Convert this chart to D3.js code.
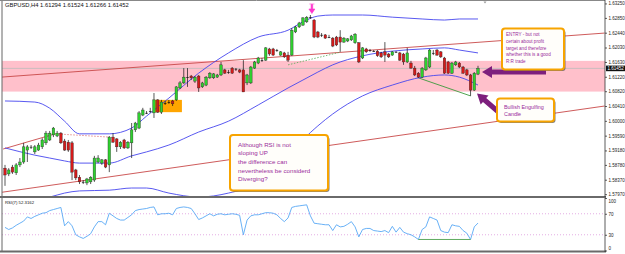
<!DOCTYPE html>
<html>
<head>
<meta charset="UTF-8">
<title>GBPUSD,H4</title>
<style>
  body { margin: 0; background: #fff; }
  svg { display: block; }
  text { font-family: "Liberation Sans", Arial, sans-serif; }
  .axis path, .axis line { stroke: #333; stroke-width: 0.8; }
  .axis text { fill: #222; font-size: 4.5px; }
</style>
</head>
<body>
<svg id="chart" width="625" height="254"></svg>
<script src="https://cdn.jsdelivr.net/npm/d3@7"></script>
<script>
// GBPUSD H4 candles
var opens = [
  1.5869, 1.5853, 1.5872, 1.5856, 1.5878, 1.5886, 1.5919, 1.5928, 1.5914, 1.5919,
  1.5928, 1.5939, 1.5947, 1.5961, 1.5958, 1.5966, 1.5944, 1.5941, 1.5939, 1.5864,
  1.5844, 1.5831, 1.5828, 1.5831, 1.5836, 1.5886, 1.5883, 1.5892, 1.5878, 1.5955,
  1.5950, 1.5928, 1.5947, 1.5925, 1.5939, 1.5975, 1.5980, 1.6016, 1.6022, 1.6027,
  1.6022, 1.6058, 1.6024, 1.6049, 1.6052, 1.6055, 1.6058, 1.6091, 1.6105, 1.6121,
  1.6124, 1.6110, 1.6124, 1.6094, 1.6099, 1.6119, 1.6119, 1.6121, 1.6127, 1.6141,
  1.6135, 1.6146, 1.6144, 1.6141, 1.6141, 1.6105, 1.6105, 1.6146, 1.6160, 1.6168,
  1.6168, 1.6199, 1.6199, 1.6196, 1.6182, 1.6188, 1.6182, 1.6182, 1.6246, 1.6260,
  1.6265, 1.6274, 1.6287, 1.6279, 1.6246, 1.6238, 1.6238, 1.6232, 1.6229, 1.6232,
  1.6232, 1.6218, 1.6221, 1.6224, 1.6216, 1.6216, 1.6174, 1.6199, 1.6196, 1.6193,
  1.6193, 1.6188, 1.6191, 1.6185, 1.6182, 1.6191, 1.6188, 1.6185, 1.6163, 1.6160,
  1.6146, 1.6132, 1.6121, 1.6141, 1.6149, 1.6188, 1.6196, 1.6191, 1.6174, 1.6163,
  1.6132, 1.6155, 1.6160, 1.6149, 1.6141, 1.6127, 1.6085, 1.61294
];
var highs = [
  1.5878, 1.5869, 1.5878, 1.5883, 1.5897, 1.5939, 1.5933, 1.5933, 1.5933, 1.5939,
  1.5952, 1.5972, 1.5972, 1.5983, 1.5972, 1.5969, 1.5950, 1.5947, 1.5944, 1.5867,
  1.5850, 1.5836, 1.5842, 1.5847, 1.5903, 1.5905, 1.5894, 1.5894, 1.5958, 1.5966,
  1.5952, 1.5944, 1.5950, 1.5944, 1.5994, 1.5997, 1.6027, 1.6036, 1.6027, 1.6036,
  1.6077, 1.6060, 1.6058, 1.6055, 1.6058, 1.6058, 1.6096, 1.6110, 1.6146, 1.6146,
  1.6127, 1.6124, 1.6127, 1.6108, 1.6124, 1.6135, 1.6132, 1.6130, 1.6163, 1.6144,
  1.6141, 1.6149, 1.6146, 1.6144, 1.6168, 1.6130, 1.6152, 1.6166, 1.6177, 1.6174,
  1.6204, 1.6202, 1.6202, 1.6199, 1.6193, 1.6191, 1.6191, 1.6257, 1.6263, 1.6274,
  1.6287, 1.6290, 1.6293, 1.6282, 1.6249, 1.6243, 1.6240, 1.6238, 1.6232, 1.6235,
  1.6251, 1.6232, 1.6229, 1.6238, 1.6243, 1.6218, 1.6204, 1.6202, 1.6199, 1.6196,
  1.6196, 1.6191, 1.6218, 1.6188, 1.6193, 1.6193, 1.6191, 1.6188, 1.6202, 1.6166,
  1.6152, 1.6135, 1.6149, 1.6177, 1.6199, 1.6196, 1.6199, 1.6193, 1.6177, 1.6166,
  1.6163, 1.6166, 1.6163, 1.6152, 1.6144, 1.6130, 1.6135, 1.61524
];
var lows = [
  1.5820, 1.5847, 1.5853, 1.5850, 1.5872, 1.5881, 1.5886, 1.5922, 1.5908, 1.5917,
  1.5922, 1.5933, 1.5944, 1.5955, 1.5955, 1.5936, 1.5917, 1.5914, 1.5836, 1.5836,
  1.5825, 1.5825, 1.5822, 1.5825, 1.5831, 1.5883, 1.5878, 1.5869, 1.5858, 1.5939,
  1.5914, 1.5922, 1.5922, 1.5922, 1.5897, 1.5969, 1.5977, 1.6013, 1.6019, 1.6022,
  1.6008, 1.6022, 1.6019, 1.6044, 1.6047, 1.6041, 1.6055, 1.6088, 1.6102, 1.6094,
  1.6113, 1.6105, 1.6080, 1.6091, 1.6096, 1.6116, 1.6116, 1.6119, 1.6124, 1.6130,
  1.6130, 1.6130, 1.6138, 1.6132, 1.6080, 1.6099, 1.6102, 1.6144, 1.6157, 1.6163,
  1.6166, 1.6180, 1.6180, 1.6191, 1.6180, 1.6174, 1.6163, 1.6180, 1.6243, 1.6257,
  1.6263, 1.6271, 1.6282, 1.6229, 1.6229, 1.6232, 1.6227, 1.6229, 1.6204, 1.6207,
  1.6191, 1.6216, 1.6218, 1.6221, 1.6213, 1.6160, 1.6171, 1.6188, 1.6191, 1.6191,
  1.6177, 1.6174, 1.6163, 1.6174, 1.6180, 1.6188, 1.6166, 1.6155, 1.6160, 1.6144,
  1.6124, 1.6119, 1.6119, 1.6138, 1.6146, 1.6182, 1.6180, 1.6174, 1.6130, 1.6130,
  1.6130, 1.6152, 1.6146, 1.6130, 1.6124, 1.6069, 1.6083, 1.61266
];
var closes = [
  1.5850, 1.5864, 1.5858, 1.5878, 1.5886, 1.5928, 1.5928, 1.5928, 1.5928, 1.5933,
  1.5947, 1.5966, 1.5966, 1.5980, 1.5966, 1.5939, 1.5919, 1.5919, 1.5858, 1.5842,
  1.5831, 1.5831, 1.5839, 1.5844, 1.5897, 1.5897, 1.5892, 1.5872, 1.5955, 1.5941,
  1.5928, 1.5941, 1.5925, 1.5941, 1.5975, 1.5994, 1.6022, 1.6030, 1.6022, 1.6027,
  1.6058, 1.6024, 1.6052, 1.6049, 1.6052, 1.6047, 1.6094, 1.6105, 1.6121, 1.6121,
  1.6119, 1.6121, 1.6091, 1.6105, 1.6121, 1.6132, 1.6130, 1.6127, 1.6155, 1.6132,
  1.6135, 1.6132, 1.6144, 1.6135, 1.6080, 1.6127, 1.6149, 1.6163, 1.6174, 1.6168,
  1.6202, 1.6185, 1.6182, 1.6196, 1.6191, 1.6177, 1.6168, 1.6251, 1.6260, 1.6271,
  1.6285, 1.6287, 1.6287, 1.6232, 1.6232, 1.6238, 1.6229, 1.6232, 1.6207, 1.6210,
  1.6218, 1.6229, 1.6227, 1.6235, 1.6240, 1.6163, 1.6202, 1.6191, 1.6196, 1.6193,
  1.6180, 1.6177, 1.6182, 1.6177, 1.6191, 1.6191, 1.6168, 1.6163, 1.6188, 1.6146,
  1.6127, 1.6121, 1.6146, 1.6174, 1.6196, 1.6188, 1.6182, 1.6177, 1.6132, 1.6132,
  1.6160, 1.6163, 1.6149, 1.6132, 1.6127, 1.6085, 1.6132, 1.61452
];

// RSI(7), one value per candle
var rsi = [
  44, 40, 43, 48, 52, 56, 64, 61, 65, 68,
  71, 72, 76, 78, 80, 82, 47, 55, 47, 30,
  26, 23, 27, 32, 45, 55, 55, 49, 71, 66,
  61, 58, 58, 63, 68, 76, 78, 79, 80, 82,
  83, 68, 70, 70, 71, 68, 80, 82, 83, 82,
  80, 70, 59, 62, 66, 70, 66, 69, 70, 68,
  69, 70, 69, 67, 30, 58, 66, 68, 68, 70,
  72, 72, 71, 68, 61, 55, 62, 82, 84, 85,
  86, 87, 66, 52, 51, 50, 49, 49, 38, 49,
  45, 46, 50, 55, 45, 26, 40, 42, 42, 38,
  37, 36, 38, 34, 46, 35, 44, 35, 32, 30,
  26, 21, 40, 45, 64, 61, 58, 38, 35, 34,
  49, 47, 46, 38, 33, 21, 45, 52.3162
];

// Bollinger bands, read at these candles
var bandAt = [0, 8, 12, 16, 20, 28, 34, 38, 44, 52, 60, 68, 76, 80, 84, 88, 96, 104, 112, 118, 122, 127];
var bandUpper = [1.6055, 1.6052, 1.6035, 1.5999, 1.5964, 1.5964, 1.5980, 1.6013, 1.6063, 1.6132, 1.6188,
                 1.6232, 1.6251, 1.6274, 1.6290, 1.6293, 1.6293, 1.6287, 1.6282, 1.6279, 1.6282, 1.6282];
var bandMiddle = [1.5925, 1.5905, 1.5897, 1.5889, 1.5883, 1.5883, 1.5903, 1.5914, 1.5933, 1.5969, 1.5999,
                  1.6044, 1.6091, 1.6113, 1.6135, 1.6155, 1.6180, 1.6193, 1.6199, 1.6202, 1.6196, 1.6188];
var bandLower = [1.5767, 1.5781, 1.5789, 1.5800, 1.5806, 1.5808, 1.5814, 1.5814, 1.5800, 1.5789, 1.5800,
                 1.5828, 1.5897, 1.5947, 1.5986, 1.6019, 1.6069, 1.6099, 1.6121, 1.6127, 1.6121, 1.6099];

var priceTicks = [1.63250, 1.62850, 1.62440, 1.62030, 1.61630, 1.61220, 1.60820,
                  1.60410, 1.60000, 1.59590, 1.59180, 1.58780, 1.58370, 1.57970];
var rsiTicks = [100, 70, 30, 0];
var rsiLevels = [70, 30];

// drawn objects: [candle index, price] end points
var zone = [1.6081, 1.6166];
var orangeBox = [[39.8, 1.6024], [47.5, 1.6058]];
var redLines = [ [[-1, 1.6121], [161, 1.6243]], [[-1, 1.5802], [161, 1.6041]], [[-0.5, 1.5922], [13.5, 1.5964]] ];
var redDotted = [[13.5, 1.5964], [28, 1.5955]];
var greenDotted = [[76, 1.6155], [90, 1.6190]];
var greenLine = [[111, 1.6119], [125, 1.6069]];
var rsiGreen = [[111, 21], [125, 21]];
var topArrowAt = 82;

var title = "GBPUSD,H4  1.61294 1.61524 1.61266 1.61452";
var rsiTitle = "RSI(7) 52.3162";

var svg = d3.select("#chart");
var left = 2, right = 605, mainTop = 1, mainBottom = 197, rsiTop = 198, rsiBottom = 251;

var x = d3.scaleLinear().domain([0, 127]).range([5, 478]);
var y = d3.scaleLinear().domain([1.57919, 1.63290]).range([196, 2]);
var yr = d3.scaleLinear().domain([0, 100]).range([250.5, 198]);

svg.append("clipPath").attr("id", "mainclip").append("rect")
    .attr("x", left).attr("y", mainTop).attr("width", right - left).attr("height", mainBottom - mainTop);
svg.append("clipPath").attr("id", "rsiclip").append("rect")
    .attr("x", left).attr("y", rsiTop).attr("width", right - left).attr("height", rsiBottom - rsiTop);

var main = svg.append("g").attr("clip-path", "url(#mainclip)");

// pink zone
main.append("rect")
    .attr("x", left).attr("width", right - left)
    .attr("y", y(zone[1])).attr("height", y(zone[0]) - y(zone[1]))
    .attr("fill", "#ffc0cb");

// bid line
main.append("line")
    .attr("x1", left).attr("x2", right)
    .attr("y1", y(closes[closes.length - 1])).attr("y2", y(closes[closes.length - 1]))
    .attr("stroke", "#bdbdbd").attr("stroke-width", 0.8);

// orange box
main.append("rect")
    .attr("x", x(orangeBox[0][0])).attr("width", x(orangeBox[1][0]) - x(orangeBox[0][0]))
    .attr("y", y(orangeBox[1][1])).attr("height", y(orangeBox[0][1]) - y(orangeBox[1][1]))
    .attr("fill", "#ffa500");

function seg(g, p, color, w, dash) {
    g.append("line")
        .attr("x1", x(p[0][0])).attr("y1", y(p[0][1]))
        .attr("x2", x(p[1][0])).attr("y2", y(p[1][1]))
        .attr("stroke", color).attr("stroke-width", w)
        .attr("stroke-dasharray", dash || null);
}
redLines.forEach(function(l) { seg(main, l, "#c84848", 0.9); });
seg(main, redDotted, "#e07070", 0.8, "1.5,1.5");
seg(main, greenDotted, "#55aa55", 0.8, "1.5,1.5");
seg(main, greenLine, "#3c9a3c", 0.9);

// bands
var bandLine = d3.line().x(d => x(d[0])).y(d => y(d[1])).curve(d3.curveMonotoneX);
[bandUpper, bandMiddle, bandLower].forEach(function(b) {
    main.append("path")
        .attr("d", bandLine(bandAt.map((k, i) => [k, b[i]])))
        .attr("fill", "none").attr("stroke", "#4646ee").attr("stroke-width", 0.9);
});

// candles
var candles = d3.range(opens.length).map(i => ({i: i, o: opens[i], h: highs[i], l: lows[i], c: closes[i]}));
var cg = main.append("g").selectAll("g").data(candles).enter().append("g");
cg.append("line")
    .attr("x1", d => x(d.i)).attr("x2", d => x(d.i))
    .attr("y1", d => y(d.h)).attr("y2", d => y(d.l))
    .attr("stroke", "#111").attr("stroke-width", 0.7);
cg.append("rect")
    .attr("x", d => x(d.i) - 1.3).attr("width", 2.6)
    .attr("y", d => y(Math.max(d.o, d.c)))
    .attr("height", d => Math.max(0.7, Math.abs(y(d.o) - y(d.c))))
    .attr("fill", d => Math.abs(d.o - d.c) < 0.00005 ? "#111" : (d.c > d.o ? "#2fd02f" : "#d41a1a"))
    .attr("stroke", d => Math.abs(d.o - d.c) < 0.00005 ? "none" : "#222")
    .attr("stroke-width", 0.35);

// magenta arrow above the top
var ax = x(topArrowAt) + 1.5, ay = y(highs[topArrowAt]) - 1.5;
main.append("path")
    .attr("d", "M" + (ax - 0.8) + "," + (ay - 9) + "h1.6v4.5h2.2l-3,4.5l-3,-4.5h2.2z M" + (ax - 2.5) + "," + (ay - 9.5) + "h5")
    .attr("fill", "#ff33cc").attr("stroke", "#ff33cc").attr("stroke-width", 0.6);

// chart shift marker
svg.append("path").attr("d", "M483.5,1.5h3l-1.5,2z").attr("fill", "#999");

// RSI panel
var rp = svg.append("g").attr("clip-path", "url(#rsiclip)");
rsiLevels.forEach(function(v) {
    rp.append("line").attr("x1", left).attr("x2", right)
        .attr("y1", yr(v)).attr("y2", yr(v))
        .attr("stroke", "#d98ad9").attr("stroke-width", 0.7).attr("stroke-dasharray", "1,2");
});
rp.append("path")
    .attr("d", d3.line().x((d, i) => x(i)).y(d => yr(d))(rsi))
    .attr("fill", "none").attr("stroke", "#58a8f5").attr("stroke-width", 0.9);
rp.append("line")
    .attr("x1", x(rsiGreen[0][0])).attr("x2", x(rsiGreen[1][0]))
    .attr("y1", yr(rsiGreen[0][1])).attr("y2", yr(rsiGreen[1][1]))
    .attr("stroke", "#4ea04e").attr("stroke-width", 0.9);

// frames
svg.append("line").attr("x1", left).attr("x2", left).attr("y1", 0).attr("y2", rsiBottom).attr("stroke", "#666").attr("stroke-width", 1);
svg.append("line").attr("x1", 0).attr("x2", right).attr("y1", 0.5).attr("y2", 0.5).attr("stroke", "#888").attr("stroke-width", 1);
svg.append("line").attr("x1", 0).attr("x2", right + 1).attr("y1", mainBottom).attr("y2", mainBottom).attr("stroke", "#6a6a6a").attr("stroke-width", 1.8);
svg.append("line").attr("x1", 0).attr("x2", right + 1).attr("y1", rsiBottom + 0.5).attr("y2", rsiBottom + 0.5).attr("stroke", "#6a6a6a").attr("stroke-width", 1.8);

// axes
var ya = svg.append("g").attr("class", "axis").attr("transform", "translate(" + right + ",0)")
    .call(d3.axisRight(y).tickValues(priceTicks).tickSize(2).tickPadding(1.5).tickFormat(d3.format(".5f")));
ya.select(".domain").attr("d", "M0,0V" + mainBottom);
var ra = svg.append("g").attr("class", "axis").attr("transform", "translate(" + right + ",0)")
    .call(d3.axisRight(yr).tickValues(rsiTicks).tickSize(2).tickPadding(1.5));
ra.select(".domain").attr("d", "M0," + rsiTop + "V" + (rsiBottom + 1));
ra.selectAll(".tick text").attr("dy", d => d === 100 ? "0.9em" : d === 0 ? "-0.2em" : "0.32em");

// last price tag
var lastY = y(closes[closes.length - 1]);
svg.append("rect").attr("x", right + 1).attr("y", lastY - 2.8).attr("width", 19).attr("height", 5.6).attr("fill", "#111");
svg.append("text").attr("x", right + 2.5).attr("y", lastY + 1.6).attr("fill", "#fff")
    .attr("font-size", 4.5).text(d3.format(".5f")(closes[closes.length - 1]));

// titles
svg.append("text").attr("x", 5).attr("y", 7).attr("font-size", 5.8).attr("fill", "#111").text(title);
svg.append("text").attr("x", 5).attr("y", 204).attr("font-size", 4.3).attr("fill", "#111").text(rsiTitle);

// callouts
function callout(bx, by, bw, bh, lines, fs, lh, tx, ty) {
    var g = svg.append("g");
    g.append("rect").attr("x", bx + 1.5).attr("y", by + 1.5).attr("width", bw).attr("height", bh)
        .attr("rx", 3).attr("fill", "#555").attr("opacity", 0.75);
    g.append("rect").attr("x", bx).attr("y", by).attr("width", bw).attr("height", bh)
        .attr("rx", 3).attr("fill", "#fffefa").attr("stroke", "#f7a400").attr("stroke-width", 2);
    lines.forEach(function(t, i) {
        g.append("text").attr("x", bx + tx).attr("y", by + ty + i * lh)
            .attr("font-size", fs).attr("fill", "#9a2c9a").text(t);
    });
}
function fatArrow(tip, tail, shaft, headL, headW) {
    var dx = tail[0] - tip[0], dy = tail[1] - tip[1], len = Math.hypot(dx, dy);
    var ux = dx / len, uy = dy / len, px = -uy, py = ux;
    var b = [tip[0] + ux * headL, tip[1] + uy * headL];
    var pts = [
        tip,
        [b[0] + px * headW / 2, b[1] + py * headW / 2],
        [b[0] + px * shaft / 2, b[1] + py * shaft / 2],
        [tail[0] + px * shaft / 2, tail[1] + py * shaft / 2],
        [tail[0] - px * shaft / 2, tail[1] - py * shaft / 2],
        [b[0] - px * shaft / 2, b[1] - py * shaft / 2],
        [b[0] - px * headW / 2, b[1] - py * headW / 2]
    ];
    svg.append("path").attr("d", "M" + pts.map(p => p.join(",")).join("L") + "Z").attr("fill", "#7d1f7d");
}

fatArrow([482, 72], [546, 72], 5, 10, 12);
fatArrow([477, 93.5], [502, 115], 5, 10, 12);

callout(502, 28.5, 62, 41, ["ENTRY - but not", "certain about profit", "target and therefore", "whether this is a good", "R:R trade"], 4.6, 6.8, 4, 7.5);
callout(497, 98.5, 57, 23, ["Bullish Engulfing", "Candle"], 5.4, 7.5, 7, 10);
callout(230, 135, 98, 55.5, ["Although RSI is not", "sloping UP", "the difference can", "nevertheless be considerd", "Diverging?"], 6.2, 8.7, 8, 11.5);
</script>
</body>
</html>
